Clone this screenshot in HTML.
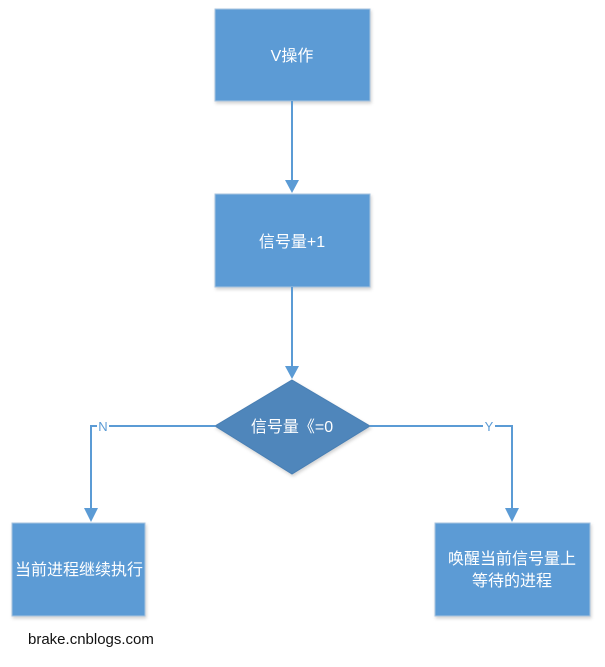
<!DOCTYPE html>
<html><head><meta charset="utf-8"><style>
body{margin:0;background:#fff;}
svg text{font-family:"Liberation Sans","Noto Sans CJK SC",sans-serif;}
</style></head><body>
<svg width="605" height="662" xmlns="http://www.w3.org/2000/svg">
<defs><filter id="s" x="-10%" y="-10%" width="130%" height="130%"><feDropShadow dx="1" dy="2" stdDeviation="1.5" flood-color="#000" flood-opacity="0.18"/></filter></defs>
<g fill="#5b9bd5" stroke="#a8c4e0" stroke-width="1" filter="url(#s)">
<rect x="215" y="9" width="155" height="92"/>
<rect x="215" y="194" width="155" height="93"/>
<rect x="12" y="523" width="133" height="93"/>
<rect x="435" y="523" width="155" height="93"/>
</g>
<polygon points="292,380 370,426 292,474 215,426" fill="#4f86bb" stroke="#4a7fb3" filter="url(#s)"/>
<g stroke="#5b9bd5" stroke-width="2" fill="none">
<line x1="292" y1="101" x2="292" y2="182"/>
<line x1="292" y1="287" x2="292" y2="368"/>
<polyline points="215,426 91,426 91,510"/>
<polyline points="370,426 512,426 512,510"/>
</g>
<g fill="#5b9bd5">
<polygon points="285,180 299,180 292,193"/>
<polygon points="285,366 299,366 292,379"/>
<polygon points="84,508 98,508 91,522"/>
<polygon points="505,508 519,508 512,522"/>
</g>
<rect x="97" y="419" width="12" height="14" fill="#fff"/>
<rect x="483" y="419" width="12" height="14" fill="#fff"/>
<g font-size="13" fill="#5b9bd5" text-anchor="middle">
<text x="103" y="431">N</text><text x="489" y="431">Y</text>
</g>
<g fill="#fff" font-size="16" text-anchor="middle">
<text x="292" y="61">V操作</text>
<text x="292" y="247">信号量+1</text>
<text x="292" y="432">信号量《=0</text>
<text x="79" y="575">当前进程继续执行</text>
<text x="512" y="564">唤醒当前信号量上</text>
<text x="512" y="586">等待的进程</text>
</g>
<text x="28" y="644" font-size="15" fill="#111">brake.cnblogs.com</text>
</svg>
</body></html>
